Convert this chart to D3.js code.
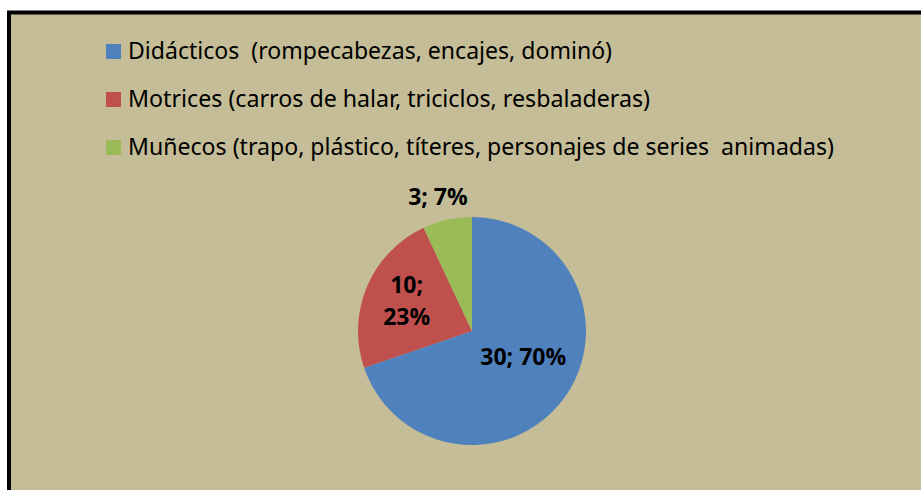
<!DOCTYPE html>
<html>
<head>
	<meta charset="utf-8">
	<script src="https://cdn.jsdelivr.net/npm/d3@7"></script>
	<style>
		html, body { padding: 0; margin: 0; background: #ffffff; }
	</style>
</head>
<body>
	<script>
		var width = 921, height = 490;

		// data
		var categories = [
			"Didácticos  (rompecabezas, encajes, dominó)",
			"Motrices (carros de halar, triciclos, resbaladeras)",
			"Muñecos (trapo, plástico, títeres, personajes de series  animadas)"
		];
		var values = [30, 10, 3];
		var colors = ["#4f81bd", "#c0504d", "#9bbb59"];

		var svg = d3.select("body").append("svg")
			.attr("width", width)
			.attr("height", height);

		// panel with thick black border (runs off right/bottom)
		svg.append("rect")
			.attr("x", 9).attr("y", 12.5)
			.attr("width", 1000).attr("height", 1000)
			.attr("fill", "#c4bd97")
			.attr("stroke", "#000")
			.attr("stroke-width", 4);

		/* legend */
		var legendW = [484, 522, 706];
		var legend = svg.append("g").selectAll("g")
			.data(categories)
			.enter().append("g")
			.attr("transform", function(d, i) { return "translate(106," + (59 + i * 48) + ")"; });

		legend.append("rect")
			.attr("x", 0).attr("y", -15)
			.attr("width", 15).attr("height", 15)
			.attr("fill", function(d, i) { return colors[i]; });

		legend.append("text")
			.attr("x", 22)
			.attr("font-family", "'Noto Sans', sans-serif")
			.attr("font-size", 23)
			.attr("fill", "#000")
			.attr("textLength", function(d, i) { return legendW[i]; })
			.attr("lengthAdjust", "spacingAndGlyphs")
			.style("white-space", "pre")
			.text(function(d) { return d; });

		/* pie */
		var cx = 472, cy = 331, radius = 114;
		var total = d3.sum(values);
		var pie = d3.pie().sort(null)(values);
		var arc = d3.arc().innerRadius(0).outerRadius(radius);

		var g = svg.append("g").attr("transform", "translate(" + cx + "," + cy + ")");

		g.selectAll("path")
			.data(pie)
			.enter().append("path")
			.attr("d", arc)
			.attr("fill", function(d, i) { return colors[i]; });

		// label placement (radius from centre, extra shift)
		var labelR = [63, 71, 143];
		var labelDx = [0, 0, -3];
		var labelDy = [-11, -2, 6];

		var labels = g.selectAll("text.lbl")
			.data(pie)
			.enter().append("text")
			.attr("class", "lbl")
			.attr("font-family", "'Open Sans', sans-serif")
			.attr("font-weight", "bold")
			.attr("font-size", 23)
			.attr("fill", "#000")
			.attr("text-anchor", "middle")
			.attr("transform", function(d, i) {
				var c = d3.arc().innerRadius(labelR[i]).outerRadius(labelR[i]).centroid(d);
				return "translate(" + (c[0] + labelDx[i]) + "," + (c[1] + labelDy[i]) + ")";
			});

		labels.each(function(d, i) {
			var t = d3.select(this);
			var pct = Math.round(d.value / total * 100) + "%";
			var lines = i === 1 ? [d.value + ";", pct] : [d.value + "; " + pct];
			var off = (lines.length - 1) * 32 / 2;
			lines.forEach(function(s, k) {
				t.append("tspan")
					.attr("x", 0)
					.attr("y", -off + k * 32 + 8)
					.text(s);
			});
		});
	</script>
</body>
</html>
